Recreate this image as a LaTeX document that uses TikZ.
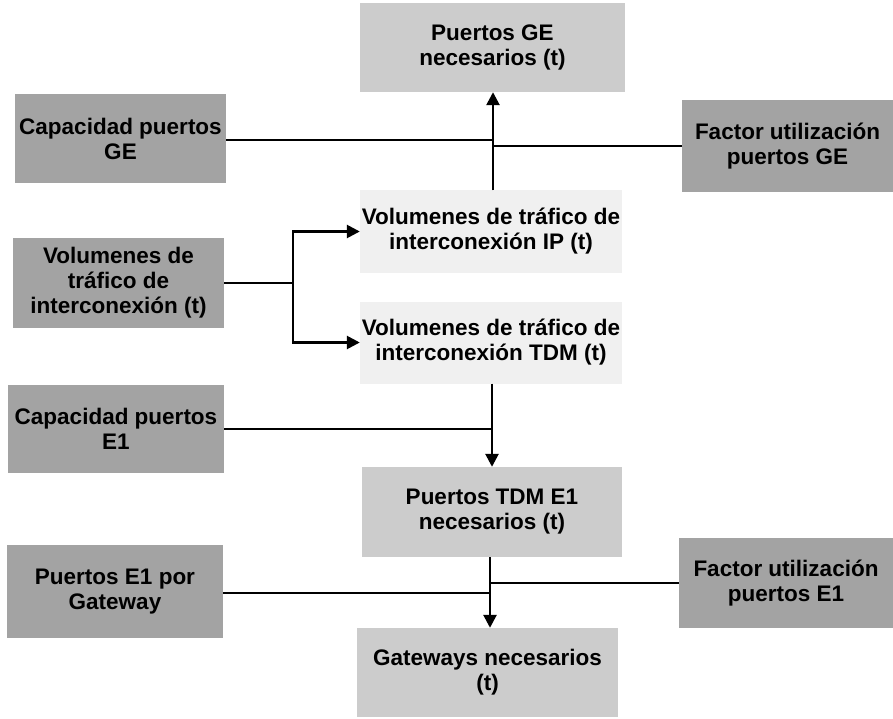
\documentclass[tikz,border=0pt]{standalone}
\usepackage{fontspec}
\setmainfont{Liberation Sans}
\usetikzlibrary{arrows.meta}
\begin{document}
\begin{tikzpicture}[x=1pt,y=-1pt,
  every node/.style={font=\fontsize{22.5}{25}\selectfont\bfseries, align=center, inner sep=0pt},
  inbox/.style={fill=black!36, minimum width=211pt, minimum height=89pt},
  outbox/.style={fill=black!20, minimum width=262pt, minimum height=89pt},
  volbox/.style={fill=black!6, minimum width=262pt, minimum height=82pt},
  conn/.style={line width=2.6pt},
  arr/.style={line width=2.6pt, -{Triangle[length=13pt,width=13pt]}}]
\useasboundingbox (0,0) rectangle (893,719);
% nodes
\node[outbox, minimum width=265pt] (pge) at (492.5,47.5) {Puertos GE\\necesarios (t)};
\node[inbox] (capge) at (120.5,139) {Capacidad puertos\\GE};
\node[inbox, minimum height=92pt] (facge) at (787.5,146) {Factor utilización\\puertos GE};
\node[volbox] (volip) at (491,231.5) {Volumenes de tráfico de\\interconexión IP (t)};
\node[volbox] (voltdm) at (491,342.5) {Volumenes de tráfico de\\interconexión TDM (t)};
\node[inbox, minimum height=90pt] (vol) at (118.5,283) {Volumenes de\\tráfico de\\interconexión (t)};
\node[inbox, minimum width=216pt, minimum height=88pt] (cape1) at (116,429) {Capacidad puertos\\E1};
\node[outbox, minimum width=260pt, minimum height=90pt] (ptdm) at (492,512) {Puertos TDM E1\\necesarios (t)};
\node[inbox, minimum width=216pt, minimum height=93pt] (pe1gw) at (115,591.5) {Puertos E1 por\\Gateway};
\node[inbox, minimum width=214pt, minimum height=90pt] (face1) at (786,583) {Factor utilización\\puertos E1};
\node[outbox, minimum width=261pt] (gw) at (487.5,672.5) {Gateways necesarios\\(t)};
% junctions
\coordinate (jge) at (493,140);
\coordinate (split) at (293,283);
\coordinate (je1) at (492,429);
\coordinate (jgw) at (490,590);
% connectors
\draw[arr] (volip.north -| jge) -- (pge.south -| jge);
\draw[conn] (capge.east |- jge) -- (jge);
\draw[conn] (facge.west) -- (facge.west -| jge);
\draw[conn] (vol.east |- split) -- (split);
\draw[arr] (split) |- (volip.west);
\draw[arr] (split) |- (voltdm.west);
\draw[arr] (voltdm.south -| je1) -- (ptdm.north -| je1);
\draw[conn] (cape1.east |- je1) -- (je1);
\draw[arr] (ptdm.south -| jgw) -- (gw.north -| jgw);
\draw[conn] (pe1gw.east |- 0,593) -- (jgw |- 0,593);
\draw[conn] (face1.west) -- (face1.west -| jgw);
\end{tikzpicture}
\end{document}
